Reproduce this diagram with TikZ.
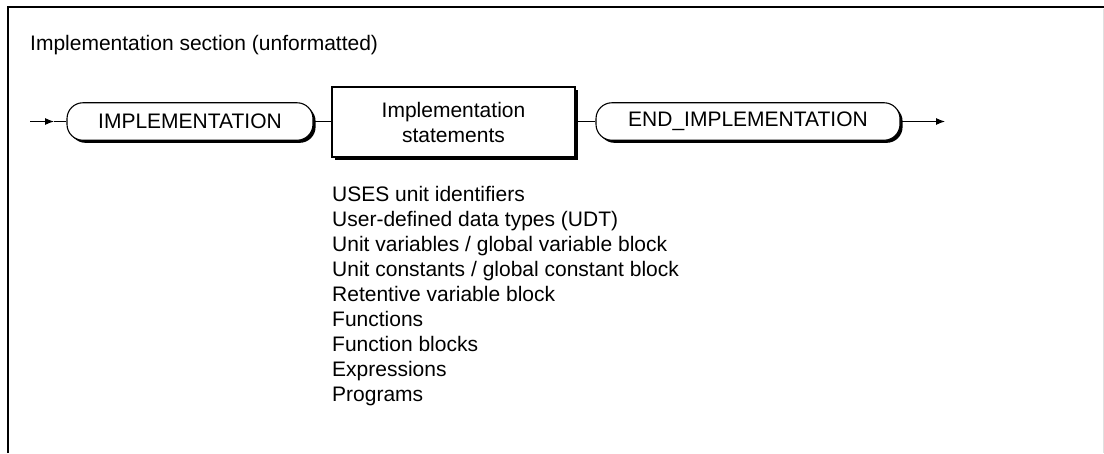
\documentclass[tikz,border=0pt]{standalone}
\usepackage{fontspec}
\setmainfont{Liberation Sans}
\usetikzlibrary{shadows,arrows.meta}
\begin{document}
\begin{tikzpicture}[x=1pt,y=-1pt,
  every node/.style={font=\fontsize{21}{25}\selectfont, inner sep=0pt},
  shad/.style={drop shadow={shadow xshift=2.6pt, shadow yshift=-2.6pt, opacity=1, fill=black}},
  pill/.style={draw, line width=1.1pt, fill=white, rounded corners=16pt, minimum height=37.5pt, shad},
  stmtbox/.style={draw, line width=1.1pt, fill=white, minimum width=243pt, minimum height=70pt, align=center, shad},
  conn/.style={line width=1pt},
  tip/.style={-{Latex[length=9pt,width=7pt]}},
  listitem/.style={anchor=base west},
  frame/.style={line width=1.6pt}
]
\useasboundingbox (0,0) rectangle (1104,453);
\draw[frame] (8,453) -- (8,7) -- (1104,7);
\draw[black!12, line width=1pt] (1103.5,9) -- (1103.5,453);

\node[anchor=base west] (title) at (30,50.5) {Implementation section (unformatted)};

\node[pill, minimum width=246pt] (impl) at (190,121.5) {IMPLEMENTATION};
\node[stmtbox] (stmts) at (453.5,122) {Implementation\\statements};
\node[pill, minimum width=304pt] (endimpl) at (748,121.5) {END\_IMPLEMENTATION};

\coordinate (in) at (30,121.5);
\coordinate (inarr) at (54,121.5);
\coordinate (out) at (945,121.5);

\draw[conn,tip] (in) -- (inarr);
\draw[conn] (inarr) -- (impl.west);
\draw[conn] (impl.east) -- (stmts.west |- impl.east);
\draw[conn] (stmts.east |- endimpl.west) -- (endimpl.west);
\draw[conn,tip] (endimpl.east) -- (out);

\node[listitem] (l1) at (332,201) {USES unit identifiers};
\node[listitem] (l2) at (332,226) {User-defined data types (UDT)};
\node[listitem] (l3) at (332,251) {Unit variables / global variable block};
\node[listitem] (l4) at (332,276) {Unit constants / global constant block};
\node[listitem] (l5) at (332,301) {Retentive variable block};
\node[listitem] (l6) at (332,326) {Functions};
\node[listitem] (l7) at (332,351) {Function blocks};
\node[listitem] (l8) at (332,376) {Expressions};
\node[listitem] (l9) at (332,401) {Programs};
\end{tikzpicture}
\end{document}
